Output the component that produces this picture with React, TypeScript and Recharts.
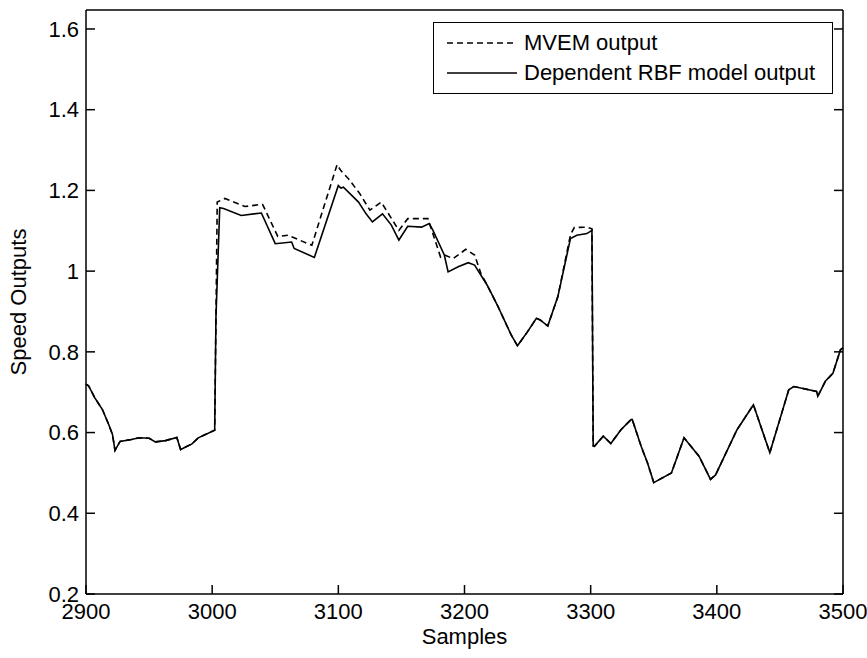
import React from 'react';
import { LineChart, Line, XAxis, YAxis, Legend } from 'recharts';

// samples / values
const rbfSamples = [
  2900, 2902, 2907, 2913, 2918, 2921, 2923, 2927, 2936, 2942, 2950, 2955, 2963, 2972, 2975, 2984, 2989, 3002,
  3003, 3006, 3009, 3023, 3039, 3050, 3063, 3065, 3081, 3100, 3102, 3104, 3116, 3122, 3127, 3135, 3142, 3148,
  3155, 3166, 3172, 3175, 3184, 3187, 3195, 3203, 3208, 3218, 3226, 3237, 3242, 3250, 3257, 3260, 3266, 3274,
  3284, 3289, 3297, 3301, 3302, 3303, 3306, 3310, 3316, 3324, 3332, 3333, 3340, 3345, 3350, 3364, 3374, 3386,
  3395, 3399, 3416, 3429, 3442, 3457, 3461, 3479, 3480, 3486, 3492, 3498, 3500
];
const rbfValues = [
  0.72, 0.716, 0.686, 0.657, 0.62, 0.595, 0.556, 0.578, 0.583, 0.587, 0.586, 0.577, 0.58, 0.588, 0.558, 0.572, 0.587, 0.606,
  0.885, 1.157, 1.155, 1.138, 1.144, 1.068, 1.072, 1.056, 1.034, 1.212, 1.206, 1.208, 1.171, 1.142, 1.122, 1.142, 1.114, 1.077,
  1.111, 1.109, 1.118, 1.101, 1.04, 0.998, 1.011, 1.021, 1.015, 0.965, 0.916, 0.842, 0.815, 0.85, 0.883, 0.879, 0.864, 0.937,
  1.081, 1.089, 1.093, 1.101, 0.567, 0.566, 0.577, 0.591, 0.573, 0.607, 0.632, 0.632, 0.566, 0.525, 0.476, 0.5, 0.587, 0.541,
  0.484, 0.495, 0.607, 0.669, 0.55, 0.706, 0.714, 0.702, 0.69, 0.727, 0.747, 0.805, 0.81
];

const mvemSamples = [
  2900, 2902, 2907, 2913, 2918, 2921, 2923, 2927, 2936, 2942, 2950, 2955, 2963, 2972, 2975, 2984, 2989, 3002,
  3003, 3004, 3010, 3026, 3038, 3040, 3052, 3060, 3079, 3099, 3102, 3108, 3117, 3125, 3134, 3148, 3155, 3171,
  3181, 3184, 3191, 3201, 3208, 3213, 3218, 3226, 3237, 3242, 3250, 3257, 3260, 3266, 3274, 3284, 3287, 3297,
  3301, 3302, 3303, 3306, 3310, 3316, 3324, 3332, 3333, 3340, 3345, 3350, 3364, 3374, 3386, 3395, 3399, 3416,
  3429, 3442, 3457, 3461, 3479, 3480, 3486, 3492, 3498, 3500
];
const mvemValues = [
  0.72, 0.716, 0.686, 0.657, 0.62, 0.595, 0.556, 0.578, 0.583, 0.587, 0.586, 0.577, 0.58, 0.588, 0.558, 0.572, 0.587, 0.606,
  0.88, 1.171, 1.18, 1.16, 1.165, 1.165, 1.086, 1.089, 1.064, 1.264, 1.249, 1.229, 1.192, 1.151, 1.171, 1.101, 1.13, 1.13,
  1.035, 1.04, 1.031, 1.054, 1.04, 0.994, 0.965, 0.916, 0.842, 0.815, 0.85, 0.883, 0.879, 0.864, 0.937, 1.09, 1.108, 1.109,
  1.105, 0.567, 0.566, 0.577, 0.591, 0.573, 0.607, 0.632, 0.632, 0.566, 0.525, 0.476, 0.5, 0.587, 0.541, 0.484, 0.495, 0.607,
  0.669, 0.55, 0.706, 0.714, 0.702, 0.69, 0.727, 0.747, 0.805, 0.81
];

const xTicks = [2900, 3000, 3100, 3200, 3300, 3400, 3500];
const yTicks = [0.2, 0.4, 0.6, 0.8, 1, 1.2, 1.4, 1.6];

const seriesNames = ['MVEM output', 'Dependent RBF model output'];

const rbfData = rbfSamples.map((s, i) => ({ sample: s, value: rbfValues[i] }));
const mvemData = mvemSamples.map((s, i) => ({ sample: s, value: mvemValues[i] }));

const FONT = '"Liberation Sans", Arial, sans-serif';
const tickStyle = { fill: '#000', fontSize: 22, fontFamily: FONT };
const noTick = () => <g />;

function LegendBox() {
  return (
    <div
      style={{
        width: 400,
        height: 72,
        boxSizing: 'border-box',
        border: '1.5px solid #000',
        background: '#fff',
        position: 'relative',
        fontFamily: FONT,
        fontSize: 22,
        color: '#000'
      }}
    >
      {seriesNames.map((name, i) => (
        <div key={name} style={{ position: 'absolute', left: 13, top: 6 + i * 30, height: 28, display: 'flex', alignItems: 'center' }}>
          <svg width={70} height={4}>
            <line x1={0} y1={2} x2={70} y2={2} stroke="#000" strokeWidth={1.5} strokeDasharray={i === 0 ? '6 4' : undefined} />
          </svg>
          <span style={{ marginLeft: 7, whiteSpace: 'nowrap' }}>{name}</span>
        </div>
      ))}
    </div>
  );
}

export default function App() {
  return (
    <div style={{ position: 'absolute', left: 0, top: 0, background: '#fff' }}>
      <LineChart width={867} height={658} margin={{ top: 9, right: 23, bottom: 63, left: 85 }}>
        <XAxis
          dataKey="sample"
          type="number"
          domain={[2900, 3500]}
          ticks={xTicks}
          height={1}
          tickSize={-9}
          tickMargin={18}
          stroke="#000"
          strokeWidth={1.5}
          tick={tickStyle}
          allowDuplicatedCategory={false}
          label={{
            content: ({ viewBox }: any) => (
              <text x={viewBox.x + viewBox.width / 2} y={viewBox.y + 50} textAnchor="middle" fontSize={22} fontFamily={FONT} fill="#000">
                Samples
              </text>
            )
          }}
        />
        <XAxis
          xAxisId="top"
          orientation="top"
          dataKey="sample"
          type="number"
          domain={[2900, 3500]}
          ticks={xTicks}
          height={1}
          tickSize={-9}
          stroke="#000"
          strokeWidth={1.5}
          tick={noTick}
        />
        <YAxis
          type="number"
          domain={[0.2, 1.647]}
          ticks={yTicks}
          allowDataOverflow
          width={1}
          tickSize={-9}
          tickMargin={16}
          stroke="#000"
          strokeWidth={1.5}
          tick={tickStyle}
          label={{
            content: ({ viewBox }: any) => {
              const x = viewBox.x + viewBox.width - 66;
              const y = viewBox.y + viewBox.height / 2;
              return (
                <text x={x} y={y} transform={`rotate(-90, ${x}, ${y})`} textAnchor="middle" dominantBaseline="middle" fontSize={22} fontFamily={FONT} fill="#000">
                  Speed Outputs
                </text>
              );
            }
          }}
        />
        <YAxis
          yAxisId="right"
          orientation="right"
          type="number"
          domain={[0.2, 1.647]}
          ticks={yTicks}
          allowDataOverflow
          width={1}
          tickSize={-9}
          stroke="#000"
          strokeWidth={1.5}
          tick={noTick}
        />
        <Legend
          layout="vertical"
          align="center"
          verticalAlign="middle"
          wrapperStyle={{ left: 433, top: 22, width: 400, height: 72 }}
          content={() => <LegendBox />}
        />
        <Line
          data={mvemData}
          dataKey="value"
          name={seriesNames[0]}
          type="linear"
          stroke="#000"
          strokeWidth={1.6}
          strokeDasharray="6 4"
          dot={false}
          isAnimationActive={false}
        />
        <Line
          data={rbfData}
          dataKey="value"
          name={seriesNames[1]}
          type="linear"
          stroke="#000"
          strokeWidth={1.6}
          dot={false}
          isAnimationActive={false}
        />
      </LineChart>
    </div>
  );
}
